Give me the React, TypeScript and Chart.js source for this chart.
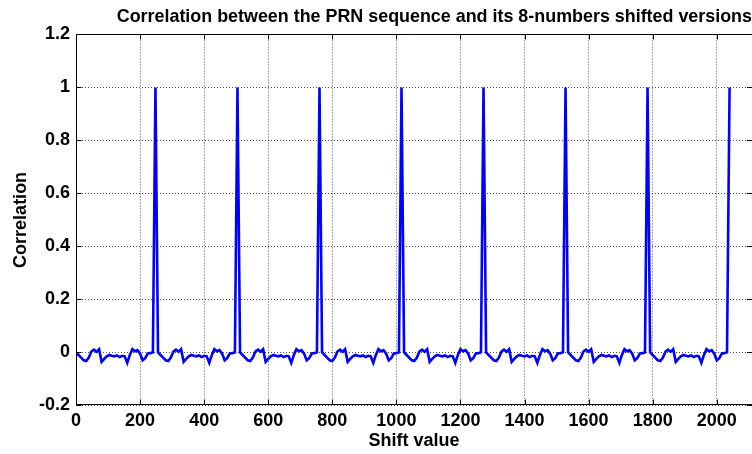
import React, { useEffect, useRef } from "react";
import { Chart, registerables } from "chart.js";

Chart.register(...registerables);

const TITLE = "Correlation between the PRN sequence and its 8-numbers shifted versions";
const X_LABEL = "Shift value";
const Y_LABEL = "Correlation";

const xTicks = [0, 200, 400, 600, 800, 1000, 1200, 1400, 1600, 1800, 2000];
const xTickLabels = ["0", "200", "400", "600", "800", "1000", "1200", "1400", "1600", "1800", "2000"];
const yTicks = [-0.2, 0, 0.2, 0.4, 0.6, 0.8, 1, 1.2];
const yTickLabels = ["-0.2", "0", "0.2", "0.4", "0.6", "0.8", "1", "1.2"];

const shiftValues = [
  0, 8, 16, 24, 32, 40, 48, 56, 64, 72, 80, 88, 96, 104, 112, 120, 128, 136, 144, 152, 160, 168, 176, 184, 192, 200, 208, 216, 224, 232, 240, 248,
  256, 264, 272, 280, 288, 296, 304, 312, 320, 328, 336, 344, 352, 360, 368, 376, 384, 392, 400, 408, 416, 424, 432, 440, 448, 456, 464, 472, 480, 488, 496, 504,
  512, 520, 528, 536, 544, 552, 560, 568, 576, 584, 592, 600, 608, 616, 624, 632, 640, 648, 656, 664, 672, 680, 688, 696, 704, 712, 720, 728, 736, 744, 752, 760,
  768, 776, 784, 792, 800, 808, 816, 824, 832, 840, 848, 856, 864, 872, 880, 888, 896, 904, 912, 920, 928, 936, 944, 952, 960, 968, 976, 984, 992, 1000, 1008, 1016,
  1024, 1032, 1040, 1048, 1056, 1064, 1072, 1080, 1088, 1096, 1104, 1112, 1120, 1128, 1136, 1144, 1152, 1160, 1168, 1176, 1184, 1192, 1200, 1208, 1216, 1224, 1232, 1240, 1248, 1256, 1264, 1272,
  1280, 1288, 1296, 1304, 1312, 1320, 1328, 1336, 1344, 1352, 1360, 1368, 1376, 1384, 1392, 1400, 1408, 1416, 1424, 1432, 1440, 1448, 1456, 1464, 1472, 1480, 1488, 1496, 1504, 1512, 1520, 1528,
  1536, 1544, 1552, 1560, 1568, 1576, 1584, 1592, 1600, 1608, 1616, 1624, 1632, 1640, 1648, 1656, 1664, 1672, 1680, 1688, 1696, 1704, 1712, 1720, 1728, 1736, 1744, 1752, 1760, 1768, 1776, 1784,
  1792, 1800, 1808, 1816, 1824, 1832, 1840, 1848, 1856, 1864, 1872, 1880, 1888, 1896, 1904, 1912, 1920, 1928, 1936, 1944, 1952, 1960, 1968, 1976, 1984, 1992, 2000, 2008, 2016, 2024, 2032, 2040,
];

const correlation = [
  0, -0.01, -0.02, -0.03, -0.033, -0.02, 0.003, 0.01, 0.002, 0.012, -0.036, -0.025, -0.015, -0.01, -0.013, -0.015, -0.012, -0.018, -0.013, -0.015, -0.04, -0.01, 0.012, 0.004, 0.008, -0.005, -0.03, -0.022, -0.004, -0.003, 0, 1,
  0, -0.01, -0.02, -0.03, -0.033, -0.02, 0.003, 0.01, 0.002, 0.012, -0.036, -0.025, -0.015, -0.01, -0.013, -0.015, -0.012, -0.018, -0.013, -0.015, -0.04, -0.01, 0.012, 0.004, 0.008, -0.005, -0.03, -0.022, -0.004, -0.003, 0, 1,
  0, -0.01, -0.02, -0.03, -0.033, -0.02, 0.003, 0.01, 0.002, 0.012, -0.036, -0.025, -0.015, -0.01, -0.013, -0.015, -0.012, -0.018, -0.013, -0.015, -0.04, -0.01, 0.012, 0.004, 0.008, -0.005, -0.03, -0.022, -0.004, -0.003, 0, 1,
  0, -0.01, -0.02, -0.03, -0.033, -0.02, 0.003, 0.01, 0.002, 0.012, -0.036, -0.025, -0.015, -0.01, -0.013, -0.015, -0.012, -0.018, -0.013, -0.015, -0.04, -0.01, 0.012, 0.004, 0.008, -0.005, -0.03, -0.022, -0.004, -0.003, 0, 1,
  0, -0.01, -0.02, -0.03, -0.033, -0.02, 0.003, 0.01, 0.002, 0.012, -0.036, -0.025, -0.015, -0.01, -0.013, -0.015, -0.012, -0.018, -0.013, -0.015, -0.04, -0.01, 0.012, 0.004, 0.008, -0.005, -0.03, -0.022, -0.004, -0.003, 0, 1,
  0, -0.01, -0.02, -0.03, -0.033, -0.02, 0.003, 0.01, 0.002, 0.012, -0.036, -0.025, -0.015, -0.01, -0.013, -0.015, -0.012, -0.018, -0.013, -0.015, -0.04, -0.01, 0.012, 0.004, 0.008, -0.005, -0.03, -0.022, -0.004, -0.003, 0, 1,
  0, -0.01, -0.02, -0.03, -0.033, -0.02, 0.003, 0.01, 0.002, 0.012, -0.036, -0.025, -0.015, -0.01, -0.013, -0.015, -0.012, -0.018, -0.013, -0.015, -0.04, -0.01, 0.012, 0.004, 0.008, -0.005, -0.03, -0.022, -0.004, -0.003, 0, 1,
  0, -0.01, -0.02, -0.03, -0.033, -0.02, 0.003, 0.01, 0.002, 0.012, -0.036, -0.025, -0.015, -0.01, -0.013, -0.015, -0.012, -0.018, -0.013, -0.015, -0.04, -0.01, 0.012, 0.004, 0.008, -0.005, -0.03, -0.022, -0.004, -0.003, 0, 1,
];

const FONT_FAMILY = "'Liberation Sans', Arial, sans-serif";

const boxPlugin = {
  id: "matlabBox",
  afterDraw(chart: any) {
    const { ctx, chartArea } = chart;
    const xs = chart.scales.x;
    const ys = chart.scales.y;
    const L = Math.round(chartArea.left) + 0.5;
    const T = Math.round(chartArea.top) + 0.5;
    const B = Math.round(chartArea.bottom) - 0.5;
    const R = chart.width;
    ctx.save();
    ctx.strokeStyle = "#000";
    ctx.lineWidth = 1;
    ctx.setLineDash([]);
    ctx.beginPath();
    ctx.moveTo(L, T);
    ctx.lineTo(R, T);
    ctx.moveTo(L, T);
    ctx.lineTo(L, B);
    ctx.lineTo(R, B);
    const tl = 5;
    xTicks.forEach((v) => {
      const px = Math.round(xs.getPixelForValue(v)) + 0.5;
      ctx.moveTo(px, B);
      ctx.lineTo(px, B - tl);
      ctx.moveTo(px, T);
      ctx.lineTo(px, T + tl);
    });
    yTicks.forEach((v) => {
      const py = Math.round(ys.getPixelForValue(v)) + 0.5;
      ctx.moveTo(L, py);
      ctx.lineTo(L + tl, py);
      ctx.moveTo(R, py);
      ctx.lineTo(R - tl, py);
    });
    ctx.stroke();
    ctx.restore();
  },
};

export default function App() {
  const ref = useRef<HTMLCanvasElement | null>(null);

  useEffect(() => {
    if (!ref.current) return;
    const font = { family: FONT_FAMILY, size: 18, weight: "bold" as const };
    const chart = new Chart(ref.current, {
      type: "line",
      data: {
        datasets: [
          {
            data: shiftValues.map((x, i) => ({ x, y: correlation[i] })),
            borderColor: "#0000ff",
            borderWidth: 2.6,
            pointRadius: 0,
            tension: 0,
            fill: false,
          },
        ],
      },
      options: {
        animation: false,
        responsive: false,
        maintainAspectRatio: false,
        layout: { padding: 0 },
        plugins: {
          legend: { display: false },
          tooltip: { enabled: false },
          title: {
            display: true,
            text: TITLE,
            align: "end",
            color: "#000",
            font: { family: FONT_FAMILY, size: 17.9, weight: "bold" },
            padding: { top: 6, bottom: 7 },
          },
        },
        scales: {
          x: {
            type: "linear",
            min: 0,
            max: 2110,
            afterBuildTicks: (s: any) => {
              s.ticks = xTicks.map((v) => ({ value: v }));
            },
            afterFit: (s: any) => {
              s.height = 48.7;
            },
            ticks: {
              autoSkip: false,
              maxRotation: 0,
              padding: 5,
              color: "#000",
              font,
              callback: (v: any) => {
                const i = xTicks.indexOf(Number(v));
                return i >= 0 ? xTickLabels[i] : "";
              },
            },
            grid: { color: "rgba(0,0,0,0.7)", lineWidth: 1, drawTicks: false },
            border: { display: false, dash: [1, 2] },
            title: {
              display: true,
              text: X_LABEL,
              color: "#000",
              font,
              padding: { top: 0, bottom: 2 },
            },
          },
          y: {
            type: "linear",
            min: -0.2,
            max: 1.2,
            afterBuildTicks: (s: any) => {
              s.ticks = yTicks.map((v) => ({ value: v }));
            },
            afterFit: (s: any) => {
              s.width = 76;
            },
            ticks: {
              autoSkip: false,
              padding: 6,
              color: "#000",
              font,
              callback: (v: any) => {
                const i = yTicks.findIndex((t) => Math.abs(t - Number(v)) < 1e-9);
                return i >= 0 ? yTickLabels[i] : "";
              },
            },
            grid: { color: "rgba(0,0,0,0.7)", lineWidth: 1, drawTicks: false },
            border: { display: false, dash: [1, 2] },
            title: {
              display: true,
              text: Y_LABEL,
              color: "#000",
              font,
              padding: { top: 10, bottom: 0 },
            },
          },
        },
      },
      plugins: [boxPlugin],
    } as any);
    return () => chart.destroy();
  }, []);

  return (
    <div style={{ position: "fixed", left: 0, top: 0, width: 752, height: 454, background: "#fff" }}>
      <canvas ref={ref} width={752} height={454} style={{ display: "block" }} />
    </div>
  );
}
